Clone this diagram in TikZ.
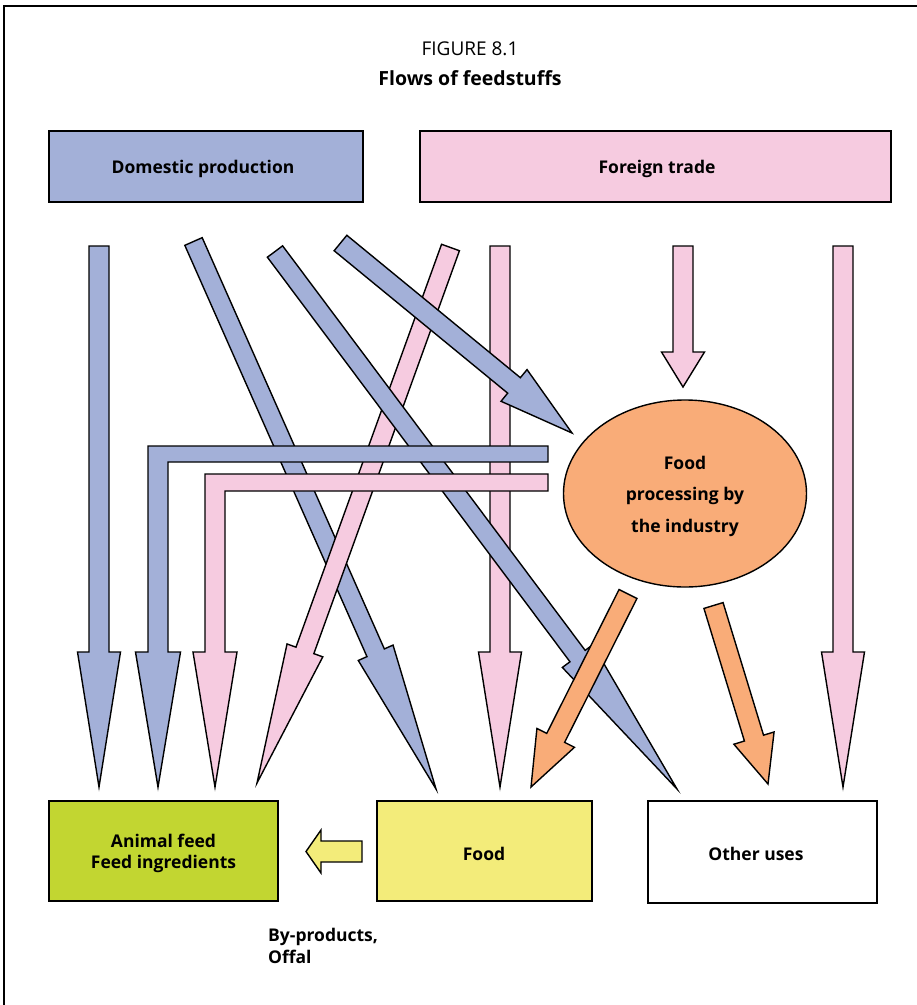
\documentclass[tikz,border=0pt]{standalone}
\usepackage{fontspec}
\setmainfont{Open Sans}
\usetikzlibrary{calc,shapes.geometric}
\definecolor{cblue}{HTML}{A3B0D8}
\definecolor{cpink}{HTML}{F6CBE0}
\definecolor{corange}{HTML}{F9AC78}
\definecolor{clime}{HTML}{C2D631}
\definecolor{cyellow}{HTML}{F3EC7A}
\tikzset{
  boxstyle/.style={draw=black,line width=1.8pt,inner sep=0pt},
  boxtext/.style={inner sep=0pt,font=\fontsize{17.5}{21}\selectfont\bfseries,align=center},
  arrowshape/.style={draw=black,line width=1.4pt,line join=miter,miter limit=20},
  bluearrow/.style={arrowshape,fill=cblue},
  pinkarrow/.style={arrowshape,fill=cpink},
  orangearrow/.style={arrowshape,fill=corange},
  yellowarrow/.style={arrowshape,fill=cyellow},
}
% #1 style, #2 start, #3 tip, #4 head length, #5 shaft half width, #6 head half width
\newcommand\blockarrow[6]{%
  \coordinate (ba-h) at ($(#3)!#4!(#2)$);
  \draw[#1] ($(#2)!#5!90:(#3)$) -- ($(ba-h)!#5!90:(#3)$) -- ($(ba-h)!#6!90:(#3)$) -- (#3)
    -- ($(ba-h)!#6!-90:(#3)$) -- ($(ba-h)!#5!-90:(#3)$) -- ($(#2)!#5!-90:(#3)$) -- cycle;}
\begin{document}
\begin{tikzpicture}[x=1pt,y=-1pt]
\useasboundingbox (0,0) rectangle (917,1005);
\fill[white] (0,0) rectangle (917,1005);
% frame
\draw[line width=1.5pt] (4,1005) -- (4,6) -- (917,6);
% titles
\node (fig) at (470,49) {\fontsize{19}{23}\selectfont FIGURE 8.1};
\node (title) at (470,78) {\fontsize{19.5}{23}\selectfont\bfseries Flows of feedstuffs};
% boxes
\node[boxstyle,fill=cblue,minimum width=314pt,minimum height=71pt] (dom) at (206,166.5) {};
\node[boxtext] (domt) at (203,169) {Domestic production};
\node[boxstyle,fill=cpink,minimum width=471pt,minimum height=71pt] (for) at (655.5,166.5) {};
\node[boxtext] (fort) at (657,169) {Foreign trade};
\node[boxstyle,fill=clime,minimum width=229pt,minimum height=100pt] (feed) at (163.5,851) {};
\node[boxtext] (feedt) at (163.5,853) {Animal feed\\Feed ingredients};
\node[boxstyle,fill=cyellow,minimum width=215pt,minimum height=100pt] (food) at (484.5,851) {};
\node[boxtext] (foodt) at (484,854) {Food};
\node[boxstyle,fill=white,minimum width=229pt,minimum height=102pt] (other) at (762.5,852) {};
\node[boxtext] (othert) at (756,854) {Other uses};
% arrow end points
\coordinate (a1s) at (99,246);   \coordinate (a1t) at (99,787);
\coordinate (p1s) at (500,246);  \coordinate (p1t) at (500,787);
\coordinate (p2s) at (683,246);  \coordinate (p2t) at (683,387);
\coordinate (p3s) at (843,246);  \coordinate (p3t) at (843,787);
\coordinate (b1s) at (193.5,241.5); \coordinate (b1t) at (436,789);
\coordinate (pds) at (450.5,247.5); \coordinate (pdt) at (257,783);
\coordinate (b2s) at (275,251.5); \coordinate (b2t) at (677,789);
\coordinate (b3s) at (340.5,243); \coordinate (b3t) at (572,433);
\coordinate (o1s) at (628,594);  \coordinate (o1t) at (531,787);
\coordinate (o2s) at (713.5,605.5); \coordinate (o2t) at (768,784);
\coordinate (ys) at (362,851.5); \coordinate (yt) at (306,851.5);
% straight arrows
\blockarrow{bluearrow}{a1s}{a1t}{135pt}{10pt}{21.5pt}
\blockarrow{pinkarrow}{p1s}{p1t}{135pt}{10pt}{21.5pt}
\blockarrow{pinkarrow}{p2s}{p2t}{35pt}{10pt}{21.5pt}
\blockarrow{pinkarrow}{p3s}{p3t}{135pt}{10pt}{21.5pt}
\blockarrow{bluearrow}{b1s}{b1t}{149pt}{9.5pt}{19pt}
\blockarrow{pinkarrow}{pds}{pdt}{141pt}{9.5pt}{19pt}
\blockarrow{bluearrow}{b2s}{b2t}{166pt}{9.5pt}{19pt}
\blockarrow{bluearrow}{b3s}{b3t}{75pt}{10pt}{20.5pt}
% elbow arrows
\draw[bluearrow] (548,446) -- (148,446) -- (148,652) -- (135.5,652) -- (158,787) -- (180.5,652)
  -- (168,652) -- (168,462) -- (548,462) -- cycle;
\draw[pinkarrow] (548,474) -- (205,474) -- (205,652) -- (193,652) -- (215,787) -- (237,652)
  -- (225,652) -- (225,491) -- (548,491) -- cycle;
% orange arrows
\blockarrow{orangearrow}{o1s}{o1t}{55pt}{10pt}{21pt}
\blockarrow{orangearrow}{o2s}{o2t}{48pt}{10pt}{21pt}
% yellow arrow
\blockarrow{yellowarrow}{ys}{yt}{15pt}{10.5pt}{21.5pt}
% ellipse
\node[ellipse,draw=black,line width=1.4pt,fill=corange,minimum width=243pt,minimum height=187pt,inner sep=0pt] (proc) at (685,493.5) {};
\node[boxtext,font=\fontsize{17.5}{31.5}\selectfont\bfseries] (proct) at (685,496) {Food\\processing by\\the industry};
% label
\node[anchor=north west,align=left,inner sep=0pt,font=\fontsize{17.5}{22}\selectfont\bfseries] (byp) at (268,928) {By-products,\\Offal};
\end{tikzpicture}
\end{document}
